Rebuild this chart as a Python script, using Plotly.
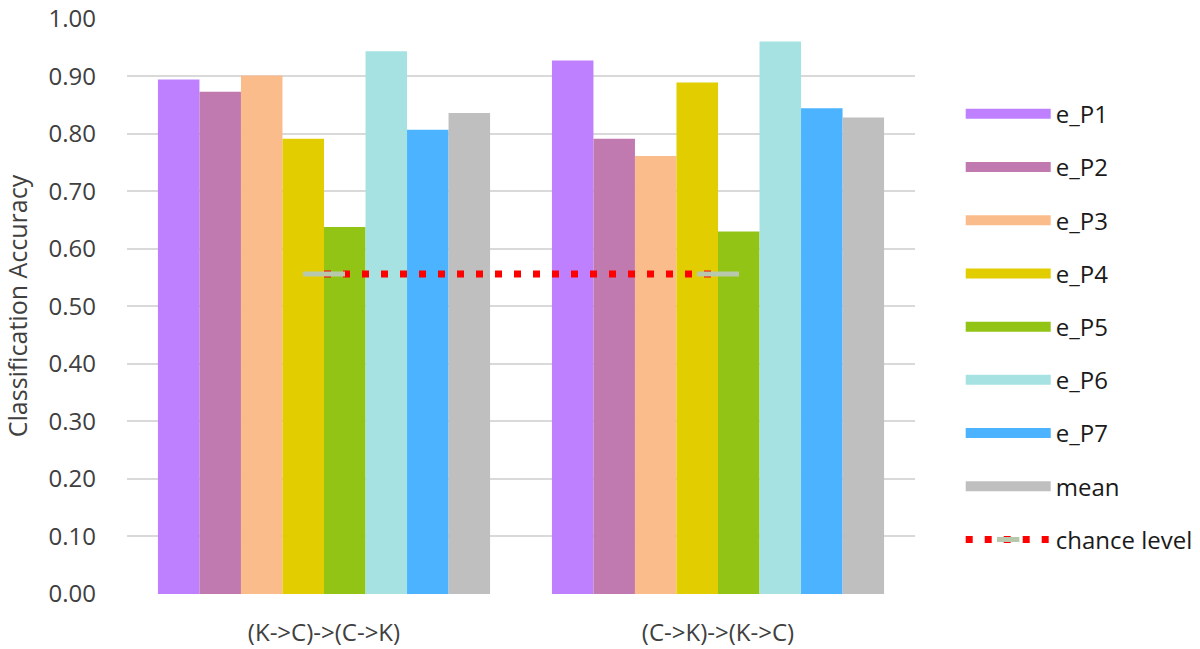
import plotly.graph_objects as go

categories = ["(K->C)->(C->K)", "(C->K)->(K->C)"]
series_names = ["e_P1", "e_P2", "e_P3", "e_P4", "e_P5", "e_P6", "e_P7", "mean"]
e_P1 = [0.894, 0.927]
e_P2 = [0.873, 0.791]
e_P3 = [0.901, 0.761]
e_P4 = [0.791, 0.889]
e_P5 = [0.638, 0.630]
e_P6 = [0.943, 0.960]
e_P7 = [0.807, 0.844]
mean = [0.836, 0.828]
chance_level = [0.556, 0.556]
y_ticks = [0.0, 0.1, 0.2, 0.3, 0.4, 0.5, 0.6, 0.7, 0.8, 0.9, 1.0]

series_values = [e_P1, e_P2, e_P3, e_P4, e_P5, e_P6, e_P7, mean]
colors = ["#BF80FF", "#C07AB0", "#FBBC8C", "#E2CE00", "#92C416",
          "#A6E2E2", "#4BB3FF", "#BFBFBF"]

FONT = "'Open Sans', sans-serif"
TXT = "#404040"

fig = go.Figure()
for name, vals, col in zip(series_names, series_values, colors):
    fig.add_trace(go.Bar(
        x=categories, y=vals, name=name, marker_color=col,
        marker_line_width=0, legendgroup=name, showlegend=False))
    # legend entry with a wide swatch (no mark drawn in the plot)
    fig.add_trace(go.Scatter(
        x=[None], y=[None], mode="lines", name=name, legendgroup=name,
        line=dict(color=col, width=18), showlegend=True, hoverinfo="skip"))

fig.add_trace(go.Scatter(
    x=categories, y=chance_level, name="chance level", mode="lines+markers",
    line=dict(color="#FF0000", width=7, dash="7px,12px"),
    marker=dict(symbol="line-ew", size=30,
                line=dict(color="#B8C8AC", width=5), color="#B8C8AC"),
    legendgroup="chance"))

fig.update_layout(
    width=1200, height=649,
    margin=dict(l=127, r=285, t=18, b=55, autoexpand=False),
    paper_bgcolor="white", plot_bgcolor="white",
    barmode="group", bargap=0.157, bargroupgap=0,
    font=dict(family=FONT, color=TXT, size=20),
    legend=dict(x=1.058, xanchor="left", y=0.872, yanchor="top",
                font=dict(size=24, color="#1A1A1A"),
                tracegroupgap=19, itemwidth=85,
                bgcolor="rgba(0,0,0,0)"),
    showlegend=True,
)
fig.update_yaxes(
    range=[0, 1.001], tickvals=y_ticks, ticktext=[f"{v:.2f}" for v in y_ticks],
    showgrid=True, gridcolor="#D9D9D9", gridwidth=1.5, zeroline=False,
    showline=False, ticks="", ticklabelstandoff=30, automargin=False,
    ticklabeloverflow="allow",
    tickfont=dict(size=24, color=TXT),
    title=dict(text="Classification Accuracy", font=dict(size=25, color=TXT),
               standoff=22),
)
fig.update_xaxes(
    showline=False, ticks="", showgrid=False, automargin=False,
    tickfont=dict(size=24, color=TXT), ticklabelstandoff=22,
)

fig.write_html("out.html",
               config={"displayModeBar": False},
               post_script="document.body.style.margin='0';"
                           "document.body.style.overflow='hidden';")
